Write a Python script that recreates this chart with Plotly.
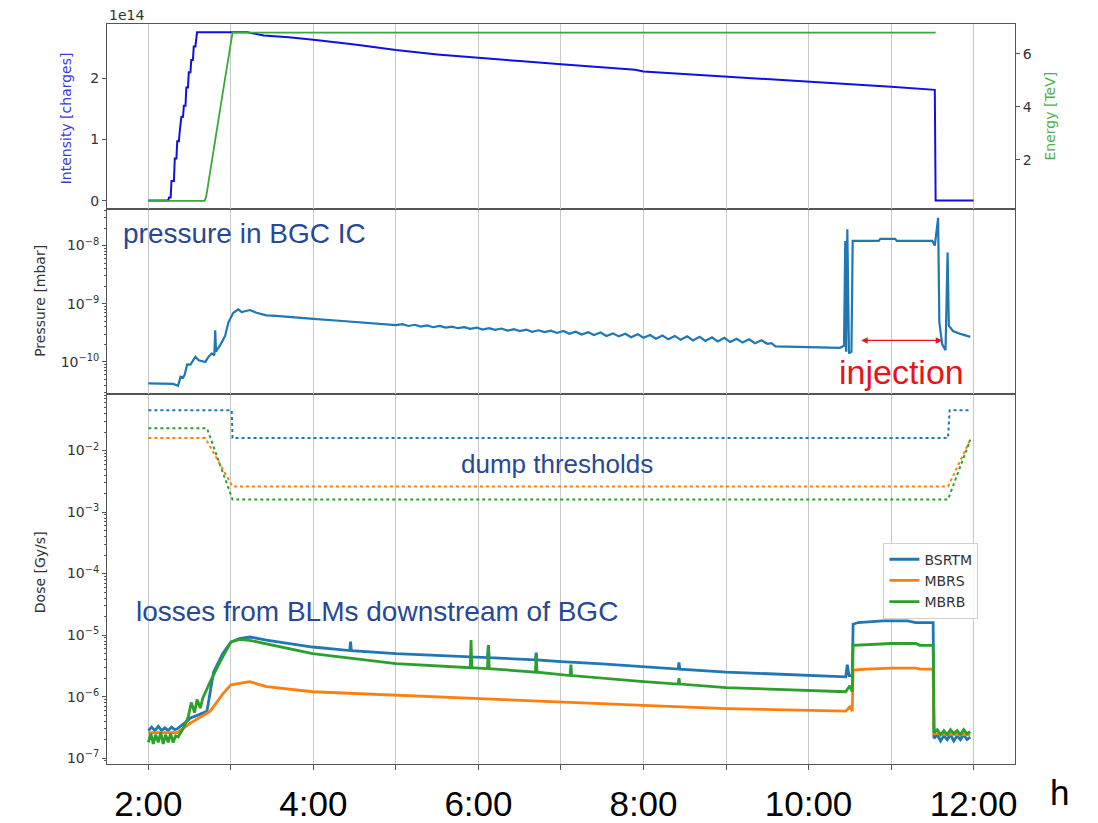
import plotly.graph_objects as go

# ---------------- data ----------------
hours = [2, 3, 4, 5, 6, 7, 8, 9, 10, 11, 12]
hour_labels = ["2:00", "", "4:00", "", "6:00", "", "8:00", "", "10:00", "", "12:00"]

dose_ticks = [1e-7, 1e-6, 1e-5, 1e-4, 1e-3, 1e-2]
dose_labels = ["10<sup>−7</sup>", "10<sup>−6</sup>", "10<sup>−5</sup>", "10<sup>−4</sup>",
               "10<sup>−3</sup>", "10<sup>−2</sup>"]
pres_ticks = [1e-10, 1e-9, 1e-8]
pres_labels = ["10<sup>−10</sup>", "10<sup>−9</sup>", "10<sup>−8</sup>"]

# Intensity [charges]
int_t = [2.00, 2.24, 2.25, 2.27, 2.28, 2.31, 2.32, 2.34, 2.35, 2.37, 2.38, 2.40, 2.42, 2.43, 2.45,
         2.46, 2.48, 2.49, 2.51, 2.52, 2.54, 2.55, 2.57, 2.59, 3.20, 3.40, 3.70, 4.00, 4.50, 5.00,
         5.50, 6.00, 6.50, 7.00, 7.50, 7.90, 8.00, 8.50, 9.00, 9.50, 10.00, 10.50, 11.00, 11.53,
         11.54, 12.00]
int_v = [0.0, 0.0, 0.05e14, 0.05e14, 0.32e14, 0.32e14, 0.69e14, 0.69e14, 0.97e14, 0.97e14, 1.13e14,
         1.37e14, 1.37e14, 1.55e14, 1.55e14, 1.85e14, 1.85e14, 2.10e14, 2.10e14, 2.30e14, 2.30e14,
         2.52e14, 2.52e14, 2.75e14, 2.75e14, 2.70e14, 2.67e14, 2.63e14, 2.55e14, 2.46e14, 2.39e14,
         2.33e14, 2.28e14, 2.23e14, 2.18e14, 2.14e14, 2.11e14, 2.07e14, 2.03e14, 1.98e14, 1.94e14,
         1.90e14, 1.86e14, 1.81e14, 0.0, 0.0]

# Energy [TeV]
en_t = [2.00, 2.68, 2.70, 2.72, 2.80, 2.90, 3.02, 11.54]
en_v = [0.45, 0.45, 0.60, 1.00, 2.55, 4.50, 6.80, 6.80]

# Pressure [mbar]
pr_t = [2.00, 2.30, 2.36, 2.39, 2.42, 2.44, 2.47, 2.51, 2.57, 2.61, 2.69, 2.73, 2.77, 2.80, 2.81,
        2.82, 2.83, 2.87, 2.93, 2.97, 3.03, 3.09, 3.13, 3.18, 3.23, 3.31, 3.43, 3.55, 3.71, 4.00,
        4.31, 4.65,
        5.00, 5.08, 5.15, 5.23, 5.30, 5.38, 5.45, 5.53, 5.60, 5.68, 5.75, 5.83, 5.90, 5.98, 6.05,
        6.13, 6.20, 6.28, 6.35, 6.43, 6.50, 6.58, 6.65, 6.73, 6.80, 6.88, 6.95, 7.03, 7.10, 7.18,
        7.25, 7.33, 7.40, 7.48, 7.55, 7.63, 7.70, 7.78, 7.85, 7.93, 8.00, 8.08, 8.15, 8.23, 8.30,
        8.38, 8.45, 8.53, 8.60, 8.68, 8.75, 8.83, 8.90, 8.98, 9.05, 9.13, 9.20, 9.28, 9.35, 9.43,
        9.50, 9.55, 9.60, 10.00, 10.30, 10.38,
        10.43, 10.445, 10.455, 10.47, 10.49, 10.52, 10.535, 10.85, 10.87, 11.05, 11.07, 11.50,
        11.53, 11.57, 11.585, 11.62, 11.66, 11.685, 11.70, 11.75, 11.85, 11.96]
pr_v = [4.3e-11, 4.2e-11, 3.9e-11, 5.6e-11, 5.4e-11, 6.0e-11, 9.1e-11, 9.0e-11, 1.23e-10, 1.07e-10,
        1.0e-10, 1.23e-10, 1.4e-10, 1.3e-10, 3.5e-10, 1.5e-10, 1.6e-10, 1.95e-10, 2.8e-10, 4.8e-10,
        7.0e-10, 8.0e-10, 7.2e-10, 7.5e-10, 7.8e-10, 7.0e-10, 6.3e-10, 6.2e-10, 5.9e-10, 5.5e-10,
        5.1e-10, 4.7e-10,
        4.3e-10, 4.45e-10, 4.15e-10, 4.35e-10, 4.05e-10, 4.25e-10, 3.95e-10, 4.15e-10, 3.9e-10,
        4.05e-10, 3.8e-10, 3.95e-10, 3.7e-10, 3.9e-10, 3.6e-10, 3.8e-10, 3.55e-10, 3.75e-10,
        3.45e-10, 3.65e-10, 3.4e-10, 3.6e-10, 3.3e-10, 3.5e-10, 3.25e-10, 3.45e-10, 3.15e-10,
        3.4e-10, 3.05e-10, 3.3e-10, 2.95e-10, 3.25e-10, 2.9e-10, 3.2e-10, 2.8e-10, 3.1e-10,
        2.75e-10, 3.05e-10, 2.65e-10, 3.0e-10, 2.6e-10, 2.9e-10, 2.5e-10, 2.85e-10, 2.45e-10,
        2.8e-10, 2.4e-10, 2.75e-10, 2.35e-10, 2.7e-10, 2.3e-10, 2.65e-10, 2.25e-10, 2.6e-10,
        2.2e-10, 2.5e-10, 2.15e-10, 2.45e-10, 2.1e-10, 2.35e-10, 2.05e-10, 2.1e-10, 1.85e-10,
        1.8e-10, 1.8e-10, 1.75e-10,
        1.9e-10, 1.2e-8, 1.5e-10, 1.9e-8, 1.4e-10, 1.5e-10, 1.2e-8, 1.2e-8, 1.3e-8, 1.3e-8,
        1.2e-8, 1.2e-8, 1.0e-8, 3.0e-8, 4.8e-10, 2.0e-10, 1.6e-10, 7.6e-9, 4.2e-10, 3.4e-10,
        3.0e-10, 2.7e-10]

# Losses [Gy/s]
bsrtm_t = [2.00, 2.04, 2.08, 2.12, 2.16, 2.20, 2.24, 2.28, 2.32, 2.35, 2.45, 2.51, 2.60, 2.71,
           2.79, 2.90, 3.00, 3.10, 3.23, 3.43, 3.99, 4.44, 4.45, 4.46, 5.00, 5.50, 6.00, 6.11,
           6.12, 6.13, 6.69, 6.70, 6.71, 7.00, 7.50, 8.00, 8.42, 8.43, 8.44, 9.00, 9.50, 10.00,
           10.45, 10.47, 10.49, 10.53, 10.54, 10.60, 10.90, 11.20, 11.30, 11.51, 11.52, 11.56,
           11.60, 11.64, 11.68, 11.72, 11.76, 11.80, 11.84, 11.88, 11.92, 11.96]
bsrtm_v = [2.8e-7, 3.2e-7, 2.8e-7, 3.3e-7, 2.8e-7, 3.1e-7, 2.8e-7, 3.2e-7, 2.9e-7, 3.0e-7,
           3.8e-7, 4.5e-7, 5.0e-7, 5.8e-7, 2.5e-6, 5.0e-6, 7.7e-6, 8.8e-6, 9.3e-6, 8.3e-6,
           6.4e-6, 5.6e-6, 7.8e-6, 5.6e-6, 5.0e-6, 4.7e-6, 4.4e-6, 4.3e-6, 6.9e-6, 4.3e-6,
           3.95e-6, 5.2e-6, 3.95e-6, 3.7e-6, 3.4e-6, 3.1e-6, 2.8e-6, 3.6e-6, 2.8e-6, 2.5e-6,
           2.35e-6, 2.25e-6, 2.1e-6, 3.3e-6, 2.2e-6, 2.2e-6, 1.5e-5, 1.6e-5, 1.7e-5, 1.7e-5,
           1.6e-5, 1.6e-5, 2.1e-7, 2.4e-7, 1.9e-7, 2.3e-7, 2.0e-7, 2.4e-7, 1.9e-7, 2.3e-7,
           2.0e-7, 2.4e-7, 2.0e-7, 2.2e-7]

mbrs_t = [2.00, 2.35, 2.51, 2.75, 2.90, 3.00, 3.23, 3.43, 3.99, 5.00, 6.00, 7.00, 8.00, 9.00,
          10.00, 10.45, 10.50, 10.53, 10.54, 10.70, 11.00, 11.30, 11.35, 11.51, 11.52, 11.96]
mbrs_v = [2.6e-7, 2.6e-7, 3.7e-7, 5.8e-7, 1.1e-6, 1.55e-6, 1.75e-6, 1.45e-6, 1.2e-6, 1.05e-6,
          9.3e-7, 8.2e-7, 7.2e-7, 6.4e-7, 5.9e-7, 5.8e-7, 6.8e-7, 5.8e-7, 2.7e-6, 2.8e-6,
          2.9e-6, 2.9e-6, 2.8e-6, 2.8e-6, 2.5e-7, 2.4e-7]

mbrb_t = [2.00, 2.03, 2.06, 2.09, 2.12, 2.15, 2.18, 2.21, 2.24, 2.27, 2.30, 2.33, 2.36, 2.42,
          2.48, 2.52, 2.56, 2.59, 2.63, 2.66, 2.75, 2.87, 3.00, 3.10, 3.23, 3.43, 3.99, 5.00,
          5.90, 5.91, 5.92, 6.00, 6.11, 6.12, 6.13, 6.69, 6.70, 6.71, 7.00, 7.11, 7.12, 7.13,
          8.00, 8.42, 8.43, 8.44, 9.00, 10.00, 10.45, 10.50, 10.53, 10.54, 10.80, 11.00, 11.30,
          11.35, 11.51, 11.52, 11.56, 11.60, 11.64, 11.68, 11.72, 11.76, 11.80, 11.84, 11.88,
          11.92, 11.96]
mbrb_v = [1.8e-7, 2.5e-7, 1.7e-7, 2.4e-7, 1.8e-7, 2.6e-7, 1.7e-7, 2.4e-7, 1.8e-7, 2.5e-7,
          1.8e-7, 2.3e-7, 2.2e-7, 3.0e-7, 4.5e-7, 8.0e-7, 5.5e-7, 9.0e-7, 6.5e-7, 9.5e-7,
          1.75e-6, 3.7e-6, 7.7e-6, 8.5e-6, 8.2e-6, 7.2e-6, 5.0e-6, 3.45e-6, 2.95e-6, 8.3e-6,
          2.95e-6, 2.9e-6, 2.85e-6, 6.9e-6, 2.85e-6, 2.5e-6, 4.8e-6, 2.5e-6, 2.25e-6, 2.2e-6,
          3.3e-6, 2.2e-6, 1.75e-6, 1.6e-6, 2.0e-6, 1.6e-6, 1.4e-6, 1.25e-6, 1.2e-6, 1.5e-6,
          1.2e-6, 6.8e-6, 7.0e-6, 7.3e-6, 7.3e-6, 6.8e-6, 6.8e-6, 2.6e-7, 2.9e-7, 2.4e-7,
          2.8e-7, 2.4e-7, 2.9e-7, 2.5e-7, 2.8e-7, 2.4e-7, 2.9e-7, 2.5e-7, 2.7e-7]

# Dump thresholds [Gy/s]
thr_bsrtm_t = [2.00, 3.01, 3.02, 11.69, 11.71, 11.96]
thr_bsrtm_v = [0.045, 0.045, 0.016, 0.016, 0.045, 0.045]
thr_mbrs_t = [2.00, 2.69, 3.02, 11.69, 11.96]
thr_mbrs_v = [0.016, 0.016, 0.0026, 0.0026, 0.015]
thr_mbrb_t = [2.00, 2.71, 3.02, 11.69, 11.96]
thr_mbrb_v = [0.023, 0.023, 0.0016, 0.0016, 0.015]

# ---------------- styling ----------------
W, H = 1098, 823
C_BLUE, C_ORANGE, C_GREEN = "#1f77b4", "#ff7f0e", "#2ca02c"
TXT_BLUE = "#284896"
MPL_FONT = "DejaVu Sans"
AX = "#555555"
GRID = "#c8c8c8"

def px_x(x):
    return x / W

def px_y(y):
    return 1 - y / H

xdom = [px_x(107.3), px_x(1016.7)]
top_dom = [px_y(211.7), px_y(24.3)]
mid_dom = [px_y(399.3), px_y(211.7)]
bot_dom = [px_y(774.0), px_y(399.3)]

# minor tick positions on the log axes (2..9 x each decade)
minor_dose = [m * 10.0 ** e for e in range(-8, -1) for m in range(2, 10)]
minor_pres = [m * 10.0 ** e for e in range(-11, -7) for m in range(2, 10)]

fig = go.Figure()

# losses
fig.add_trace(go.Scatter(x=bsrtm_t, y=bsrtm_v, mode="lines", name="BSRTM",
                         line=dict(color=C_BLUE, width=2.8), xaxis="x", yaxis="y"))
fig.add_trace(go.Scatter(x=mbrs_t, y=mbrs_v, mode="lines", name="MBRS",
                         line=dict(color=C_ORANGE, width=2.8), xaxis="x", yaxis="y"))
fig.add_trace(go.Scatter(x=mbrb_t, y=mbrb_v, mode="lines", name="MBRB",
                         line=dict(color=C_GREEN, width=2.8), xaxis="x", yaxis="y"))
# thresholds
for tt, vv, cc in [(thr_bsrtm_t, thr_bsrtm_v, C_BLUE), (thr_mbrs_t, thr_mbrs_v, C_ORANGE),
                   (thr_mbrb_t, thr_mbrb_v, C_GREEN)]:
    fig.add_trace(go.Scatter(x=tt, y=vv, mode="lines", showlegend=False,
                             line=dict(color=cc, width=2, dash="dot"), xaxis="x", yaxis="y"))
# pressure
fig.add_trace(go.Scatter(x=pr_t, y=pr_v, mode="lines", showlegend=False,
                         line=dict(color=C_BLUE, width=2.2), xaxis="x2", yaxis="y2"))
# intensity & energy
fig.add_trace(go.Scatter(x=int_t, y=int_v, mode="lines", showlegend=False,
                         line=dict(color="#1010e0", width=2), xaxis="x3", yaxis="y3"))
fig.add_trace(go.Scatter(x=en_t, y=en_v, mode="lines", showlegend=False,
                         line=dict(color="#3aa83a", width=1.8), xaxis="x3", yaxis="y4"))

tickfont = dict(family=MPL_FONT, size=14, color="#333333")
common_x = dict(range=[1.5, 12.5], domain=xdom, showgrid=True, gridcolor=GRID, gridwidth=1,
                tickmode="array", tickvals=hours, showline=True, linecolor=AX, linewidth=1.2,
                mirror=True, zeroline=False)
common_y = dict(showline=True, linecolor=AX, linewidth=1.2, mirror=True, showgrid=False,
                zeroline=False, ticks="outside", ticklen=4, tickcolor=AX, tickfont=tickfont)

fig.update_layout(
    width=W, height=H,
    margin=dict(l=0, r=0, t=0, b=0),
    paper_bgcolor="white", plot_bgcolor="white",
    showlegend=True,
    legend=dict(x=px_x(885), y=px_y(550), xanchor="left", yanchor="top",
                bgcolor="rgba(255,255,255,0.85)", bordercolor="#d0d0d0", borderwidth=1,
                font=dict(family=MPL_FONT, size=14, color="#333333"), tracegroupgap=0),
    xaxis=dict(common_x, anchor="y", ticktext=hour_labels, ticks="outside", ticklen=5,
               tickcolor=AX, ticklabelstandoff=4,
               tickfont=dict(family="Liberation Sans, Arial", size=35, color="black")),
    xaxis2=dict(common_x, anchor="y2", matches="x", showticklabels=False, ticks=""),
    xaxis3=dict(common_x, anchor="y3", matches="x", showticklabels=False, ticks=""),
    yaxis=dict(common_y, domain=bot_dom, type="log", range=[-7.09, -1.08], tickmode="array",
               tickvals=dose_ticks, ticktext=dose_labels,
               minor=dict(ticks="outside", ticklen=2.5, tickcolor=AX, tickmode="array",
                          tickvals=minor_dose, showgrid=False)),
    yaxis2=dict(common_y, domain=mid_dom, type="log", range=[-10.55, -7.37], tickmode="array",
                tickvals=pres_ticks, ticktext=pres_labels,
                minor=dict(ticks="outside", ticklen=2.5, tickcolor=AX, tickmode="array",
                           tickvals=minor_pres, showgrid=False)),
    yaxis3=dict(common_y, domain=top_dom, range=[-0.135e14, 2.887e14], tickmode="array",
                tickvals=[0, 1e14, 2e14], ticktext=["0", "1", "2"]),
    yaxis4=dict(overlaying="y3", anchor="x3", side="right", range=[0.15, 7.13], showgrid=False,
                zeroline=False, ticks="outside", ticklen=4, tickcolor=AX, tickfont=tickfont,
                tickmode="array", tickvals=[2, 4, 6], showline=False),
)

ann = []
def txt(x, y, s, size, color, family=MPL_FONT, xanchor="center", angle=0):
    ann.append(dict(x=px_x(x), y=px_y(y), xref="paper", yref="paper", text=s, showarrow=False,
                    xanchor=xanchor, yanchor="middle", textangle=angle,
                    font=dict(family=family, size=size, color=color)))

txt(107, 15, "1e14", 14, "#333333", xanchor="left")
txt(67, 120, "Intensity [charges]", 14, "#3b3bdb", angle=-90)
txt(1052, 118, "Energy [TeV]", 14, "#4cb04c", angle=-90)
txt(40, 305, "Pressure [mbar]", 14, "#333333", angle=-90)
txt(40, 580, "Dose [Gy/s]", 14, "#333333", angle=-90)
txt(121, 237, "pressure in BGC IC", 28, TXT_BLUE, family="Liberation Sans, Arial", xanchor="left")
txt(558, 470, "dump thresholds", 26, TXT_BLUE, family="Liberation Sans, Arial")
txt(134, 620, "losses from BLMs downstream of BGC", 28, TXT_BLUE,
    family="Liberation Sans, Arial", xanchor="left")
txt(903, 377, "injection", 34, "#e3161b", family="Liberation Sans, Arial")
txt(1061, 803, "h", 35, "black", family="Liberation Sans, Arial")

# injection double arrow (pressure panel)
ann.append(dict(x=11.62, y=-9.63, ax=10.62, ay=-9.63, xref="x2", yref="y2", axref="x2",
                ayref="y2", text="", showarrow=True, arrowside="end+start", arrowhead=2,
                arrowsize=1, arrowwidth=1.3, arrowcolor="#e3161b", standoff=0, startstandoff=0))

fig.update_layout(annotations=ann)
fig.write_html("out.html")
